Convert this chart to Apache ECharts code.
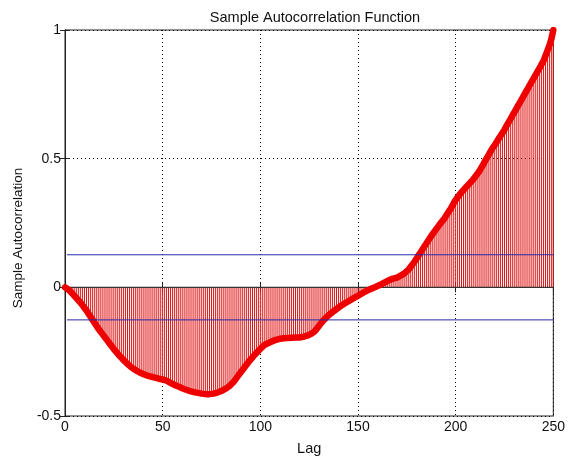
<!DOCTYPE html>
<html>
<head>
<meta charset="utf-8">
<script src="https://cdn.jsdelivr.net/npm/echarts@6/dist/echarts.min.js"></script>
<style>html,body{margin:0;padding:0;background:#fff;}#c{width:568px;height:461px;}</style>
</head>
<body>
<div id="c"></div>
<script>
// Sample autocorrelation values for lags 0..250
const acfValues = [
  0, -0.005, -0.01, -0.018, -0.026, -0.035, -0.043, -0.052, -0.06, -0.07,
  -0.08, -0.09, -0.102, -0.113, -0.125, -0.137, -0.148, -0.16, -0.17, -0.18,
  -0.19, -0.2, -0.21, -0.22, -0.23, -0.24, -0.249, -0.258, -0.267, -0.275,
  -0.283, -0.29, -0.298, -0.305, -0.311, -0.316, -0.321, -0.326, -0.33, -0.333,
  -0.337, -0.34, -0.343, -0.345, -0.347, -0.349, -0.351, -0.353, -0.355, -0.357,
  -0.358, -0.36, -0.363, -0.367, -0.371, -0.375, -0.379, -0.382, -0.385, -0.389,
  -0.392, -0.395, -0.398, -0.401, -0.403, -0.405, -0.407, -0.409, -0.41, -0.412,
  -0.413, -0.414, -0.415, -0.415, -0.415, -0.414, -0.413, -0.411, -0.409, -0.406,
  -0.403, -0.399, -0.395, -0.39, -0.385, -0.378, -0.37, -0.361, -0.35, -0.34,
  -0.33, -0.32, -0.31, -0.3, -0.29, -0.281, -0.272, -0.263, -0.255, -0.247,
  -0.239, -0.232, -0.225, -0.221, -0.217, -0.213, -0.21, -0.207, -0.204, -0.202,
  -0.2, -0.199, -0.198, -0.198, -0.197, -0.197, -0.196, -0.196, -0.195, -0.195,
  -0.195, -0.194, -0.192, -0.19, -0.188, -0.185, -0.181, -0.176, -0.17, -0.16,
  -0.15, -0.14, -0.131, -0.123, -0.115, -0.108, -0.102, -0.096, -0.09, -0.084,
  -0.079, -0.073, -0.068, -0.063, -0.059, -0.054, -0.05, -0.045, -0.041, -0.037,
  -0.033, -0.028, -0.024, -0.019, -0.015, -0.012, -0.008, -0.005, -0.002, 0.002,
  0.005, 0.009, 0.012, 0.016, 0.02, 0.024, 0.028, 0.031, 0.034, 0.036,
  0.038, 0.042, 0.046, 0.05, 0.056, 0.062, 0.07, 0.08, 0.09, 0.1,
  0.112, 0.124, 0.135, 0.147, 0.159, 0.17, 0.182, 0.194, 0.205, 0.215,
  0.226, 0.236, 0.246, 0.256, 0.265, 0.277, 0.289, 0.3, 0.313, 0.327,
  0.34, 0.35, 0.36, 0.37, 0.378, 0.387, 0.395, 0.403, 0.411, 0.42,
  0.43, 0.44, 0.45, 0.463, 0.476, 0.49, 0.503, 0.516, 0.53, 0.542,
  0.553, 0.565, 0.577, 0.589, 0.6, 0.613, 0.627, 0.64, 0.653, 0.667,
  0.68, 0.693, 0.707, 0.72, 0.733, 0.747, 0.76, 0.773, 0.787, 0.8,
  0.813, 0.827, 0.84, 0.853, 0.867, 0.88, 0.9, 0.92, 0.94, 0.965,
  1.0
];
const lags = acfValues.map((v, i) => i);
const confBound = 0.1265;           // upper/lower confidence bounds
const boundLags = [1, 250];
const xTicks = [0, 50, 100, 150, 200, 250];
const yTicks = [-0.5, 0, 0.5, 1];

const pts = lags.map((l, i) => [l, acfValues[i]]);
const font = '"Liberation Sans", Arial, sans-serif';

const chart = echarts.init(document.getElementById('c'), null, {renderer: 'canvas'});
chart.setOption({
  animation: false,
  backgroundColor: '#fff',
  title: {
    text: 'Sample Autocorrelation Function',
    left: 310, top: 5, textAlign: 'center',
    textStyle: {fontFamily: font, fontSize: 14.5, fontWeight: 'normal', color: '#111'}
  },
  graphic: [{
    type: 'text', x: 18, y: 238, rotation: Math.PI / 2,
    style: {text: 'Sample Autocorrelation', fontFamily: font, fontSize: 13.5, fill: '#111',
      align: 'center', verticalAlign: 'middle'}
  }],
  grid: {left: 65, right: 12, top: 30, bottom: 44, show: true, borderColor: '#222', borderWidth: 1, backgroundColor: 'transparent'},
  xAxis: [{
    type: 'value', min: xTicks[0], max: xTicks[xTicks.length - 1], interval: 50,
    name: 'Lag', nameLocation: 'middle', nameGap: 25,
    nameTextStyle: {fontFamily: font, fontSize: 14.5, color: '#111'},
    axisLine: {show: true, lineStyle: {color: '#222'}},
    axisTick: {show: true, inside: true, length: 5, lineStyle: {color: '#222'}},
    axisLabel: {fontFamily: font, fontSize: 14, color: '#111', margin: 4},
    splitLine: {show: true, lineStyle: {color: '#000', type: [1, 3], width: 1}}
  }, {
    type: 'value', position: 'top', min: 0, max: 250, interval: 50,
    axisLine: {show: true, lineStyle: {color: '#222'}},
    axisTick: {show: true, inside: true, length: 5, lineStyle: {color: '#222'}},
    axisLabel: {show: false}, splitLine: {show: false}
  }],
  yAxis: [{
    type: 'value', min: yTicks[0], max: yTicks[yTicks.length - 1], interval: 0.5,
    axisLine: {show: true, lineStyle: {color: '#222'}},
    axisTick: {show: true, inside: true, length: 5, lineStyle: {color: '#222'}},
    axisLabel: {fontFamily: font, fontSize: 14, color: '#111', margin: 4},
    splitLine: {show: true, lineStyle: {color: '#000', type: [1, 3], width: 1}}
  }, {
    type: 'value', position: 'right', min: -0.5, max: 1, interval: 0.5,
    axisLine: {show: true, lineStyle: {color: '#222'}},
    axisTick: {show: true, inside: true, length: 5, lineStyle: {color: '#222'}},
    axisLabel: {show: false}, splitLine: {show: false}
  }],
  series: [
    {
      type: 'custom',
      renderItem: function (params, api) {
        const x = api.value(0), y = api.value(1);
        const p0 = api.coord([x, 0]);
        const p1 = api.coord([x, y]);
        return {type: 'line', shape: {x1: p0[0], y1: p0[1], x2: p1[0], y2: p1[1]},
          style: {stroke: '#e01515', lineWidth: 1}};
      },
      data: pts, z: 2, silent: true
    },
    {
      type: 'line', data: [[0, 0], [250, 0]], symbol: 'none',
      lineStyle: {color: '#333', width: 1.2}, z: 3, silent: true
    },
    {
      type: 'line', data: pts, symbol: 'none', smooth: false,
      lineStyle: {color: '#ee0000', width: 6.5, cap: 'round', join: 'round'}, z: 4, silent: true
    },
    {
      type: 'line', data: boundLags.map(l => [l, confBound]), symbol: 'none',
      lineStyle: {color: '#2a2aa8', width: 1}, z: 5, silent: true
    },
    {
      type: 'line', data: boundLags.map(l => [l, -confBound]), symbol: 'none',
      lineStyle: {color: '#2a2aa8', width: 1}, z: 5, silent: true
    }
  ]
});
</script>
</body>
</html>
